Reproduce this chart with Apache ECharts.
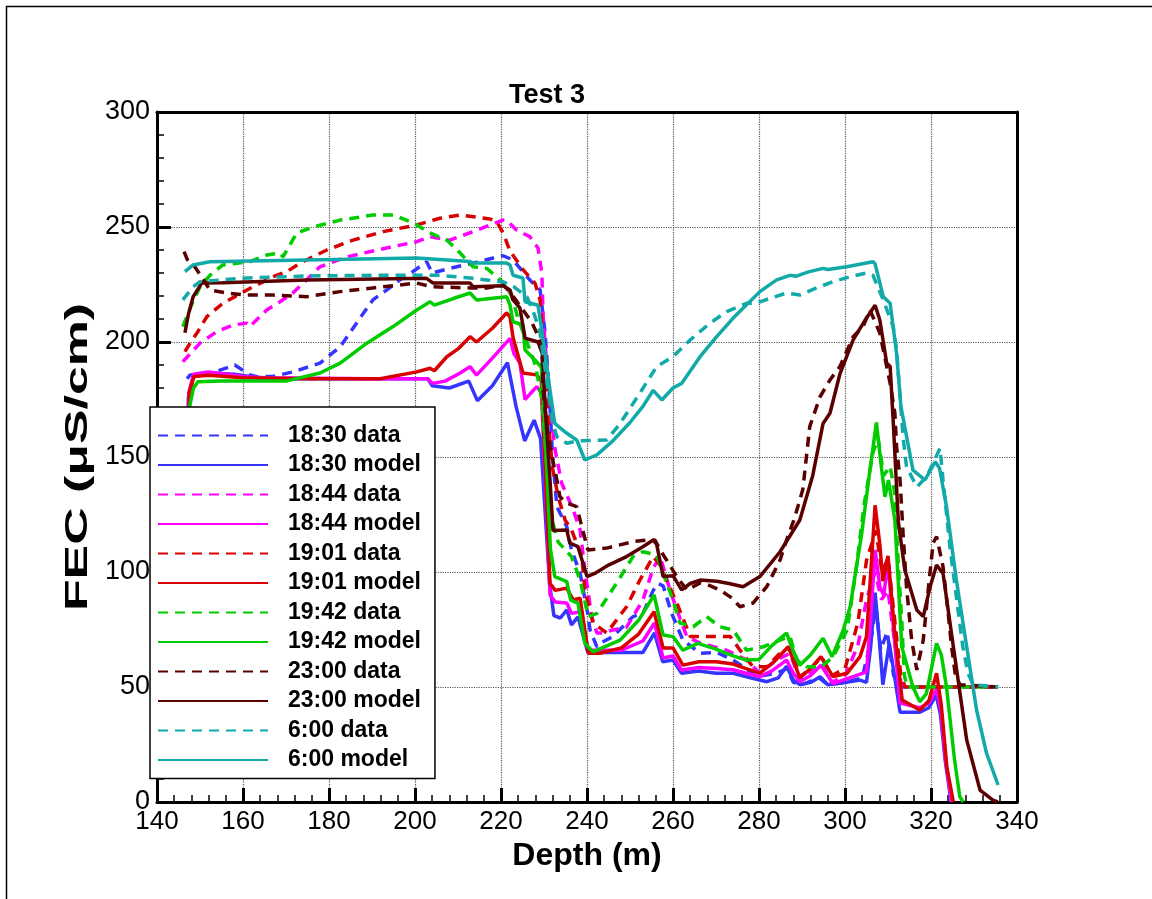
<!DOCTYPE html>
<html>
<head>
<meta charset="utf-8">
<script src="https://cdn.jsdelivr.net/npm/echarts@6/dist/echarts.min.js"></script>
<style>
  html, body { margin: 0; padding: 0; background: #fff; }
  #chart { width: 1152px; height: 899px; }
</style>
</head>
<body>
<div id="chart"></div>
<script>
// depth (m), FEC (uS/cm) pairs
var m1830 = [[146.8,110],[147.3,176],[148.5,185],[152,186.5],[158,186],[165,184],[190,184],[203,184],[204,181],[208,180],[212.5,183],[214.5,174.5],[218,181],[221.5,191],[223.5,172],[225.5,157],[227.7,166],[229.2,158],[230.3,125],[231.3,95],[232.3,81],[233.8,80],[235.3,83.5],[236.4,77],[237.9,80.5],[240.2,65],[247,65],[253,65],[255.7,73.5],[257.6,61],[260,61.7],[262,56],[266,57],[270,56],[274,56],[278,54],[281.8,52.3],[284.5,54],[286.4,59],[288,53],[289.5,51],[292,52],[294.2,54.5],[296,51],[300,52],[303.5,53],[305,52],[306,68],[307,91],[308,70],[308.8,51],[310.3,69],[311.5,55],[312.8,39],[317.4,39],[319.5,41],[321.2,46.5],[322.2,38],[323.3,18],[324.7,0]];
var m1844 = [[146.8,112],[147.4,178],[148.5,186],[152,187],[160,185],[165,184.5],[190,184],[203,184],[204,182],[207,183],[210.5,186.5],[212.8,189.3],[214.3,185.6],[218,193],[222.1,201.6],[223,195],[224.4,190.8],[225.6,175],[228.3,180.6],[229.4,178],[230.3,140],[231.4,90],[232.6,87],[235.3,86.5],[236.4,82],[238.4,82.7],[240.3,66],[248,66],[253,70],[255.7,77.8],[257.7,62.6],[260,63.5],[262,57.4],[266,58.5],[270,58],[274,57.5],[277,56],[280.2,54.5],[283,57],[286.4,61.7],[288,56],[289.5,52.3],[292,55],[294.4,59.5],[297.2,51.5],[301.9,54.5],[305,56.6],[306,80],[307,109.6],[308.1,93.6],[309,90],[310,103.9],[311.3,75],[312.8,43],[317.4,41],[319.5,43],[321.3,49],[322.3,40],[323.4,18],[324.8,0]];
var m1901 = [[146.9,112],[147.5,178],[148.6,185],[152,185.5],[160,184.5],[175,184],[191.9,184],[200.4,187],[203.5,188.6],[204.5,187.5],[207.4,193.6],[210,197],[212.8,202.3],[214.3,200],[218,206],[221.3,212.6],[222.1,211],[222.8,202],[225.1,186.5],[228.3,185.7],[229.4,183],[230.4,140],[231.4,95],[232.6,92],[235.3,93],[236.8,87.8],[238.4,88.6],[240.3,64.7],[243,64.7],[248,67],[252,73],[255.6,82.7],[257.7,67],[260,67],[262.3,59.5],[266,61],[270,61],[274,60],[277,58],[280.2,56],[283.5,61],[286.8,67.5],[288.3,60],[289.5,54],[292,58],[294.4,63.2],[297.2,54.5],[300.5,56],[303.5,63.2],[305,71.9],[306,100],[307,129],[308.1,112],[308.8,96],[310,107],[311.5,75],[313.3,44.3],[317.4,40],[319.5,44],[321.3,56],[322.4,42],[323.7,15],[325.2,0]];
var m1942 = [[147,100],[147.6,172],[148.5,180],[149.5,182.7],[155,183],[170,183],[177.9,186.5],[182.6,190.8],[188.8,199.5],[194.9,206.7],[200.4,213.9],[203.5,217.5],[204.5,216],[208.9,218.9],[212.8,221.3],[214.3,218.3],[221.3,219.7],[222.1,216],[222.8,208.8],[225.1,207.4],[225.6,196.5],[228.3,191.4],[229.4,189],[230.5,150],[231.5,110],[232.5,98],[235.3,95.8],[236.2,87.8],[237.9,86.5],[239.5,69],[241.4,65.3],[247.7,70.4],[252,79],[255.6,90],[257.7,72.6],[260,71.9],[262.3,66],[265.8,69],[270,66.5],[274,63.5],[277.1,61.7],[280,62],[283,68],[286.4,73.5],[287.9,66],[289.5,59.5],[292,64],[294.9,71.2],[297,63.2],[299.6,74.8],[301.2,84.9],[303.9,116.9],[305.5,140],[307.3,165],[308.5,145],[309.3,132.7],[310.1,140],[311.6,122.6],[313.2,67.5],[315.8,50],[317.4,43.6],[318.9,47],[321.3,69],[322.4,64],[323.6,50],[325.5,18],[326.7,2.3],[327.5,0]];
var m2300 = [[146.5,204],[147.3,212],[148.4,219.7],[150.4,225.6],[155.3,225.8],[174.8,227],[202.7,227.7],[204.2,225.6],[212.8,225.6],[213.5,224],[220.5,224.5],[222.1,222.6],[222.8,218.3],[224.4,214.8],[225.6,201.7],[228.6,200],[229.6,195],[230.5,165],[231.4,140],[232.1,118],[235.3,118.3],[236,112.6],[237.9,111],[240,98],[241.8,99.4],[245,103],[249.2,106.7],[253,111],[255.4,113.9],[256.2,112],[257.7,98],[260,98.4],[262,92.2],[264,95],[266.3,96.5],[270.2,96],[273,95],[276.3,93.6],[280.2,98],[284.9,108.8],[289.5,122.6],[292.5,142],[294.9,164.6],[296.5,169],[298.8,186],[301.9,200.9],[304.5,209],[307,216],[308.1,209.6],[309.7,190.8],[310.5,189.3],[311.2,166],[312.4,122],[313.9,101],[316.7,83.5],[318.2,80.6],[319.8,93.6],[321.3,103],[322.8,99.4],[325.2,67.5],[328.3,27],[331.4,5.2],[334.4,0.8],[335.5,0]];
var m0600 = [[146.5,230.6],[148.4,233.5],[152.3,234.9],[174.8,235.7],[200.4,236.5],[212.8,235],[213.5,234.3],[221.3,234.3],[222.1,233.5],[222.8,229],[225.1,227.8],[225.6,217.5],[228.6,216],[229.5,205],[231.4,179],[232.5,164.6],[235.3,160.3],[237.6,157.4],[239.5,148.7],[242.3,150.9],[246,157],[250,165],[253,172],[255.4,179],[257.4,174.8],[260,180],[262,182],[266.3,193.6],[270,202],[274,210.4],[280.2,221.9],[284.1,227],[287.2,229],[288.7,228.6],[291.5,230.5],[294.9,232],[296,231.5],[300.4,232.7],[306.5,234.9],[307,234],[308.9,219.7],[310.5,216.8],[312,195],[313,172],[315.8,144.3],[318.6,140],[321,148],[322,145],[323.6,128.4],[325.9,96.5],[328.3,67.5],[330.6,40],[332.9,21.3],[335.6,7.4]];

var d1830 = [[147,184],[147.7,185.7],[152,186],[155,188],[158.1,190],[161.6,185.7],[163.2,184.9],[167,185],[171.6,187],[177.9,190.8],[182.6,197.9],[186.4,208.2],[190.2,218.3],[193.4,222.6],[196.5,227],[199.5,230.6],[202.7,234.9],[204,230],[208,232],[213.5,234.3],[218.2,236.5],[220.5,237.5],[222.8,235.7],[226.7,227],[229.1,222.6],[230.2,205],[231.2,179],[232,150],[233,128.4],[235.3,119.7],[236.4,109.6],[238.4,99.4],[240.3,80.6],[240.7,74.8],[242.3,67.5],[243,69],[246,71.9],[250.7,80.6],[253,82],[255.4,92],[256.5,95],[257.7,94],[259.7,82],[262.3,70.4],[266.3,64.7],[270.2,65],[274,61.7],[277,58],[279.5,54.5],[284.1,56],[286.5,58],[288,52],[290,51],[294,54],[296,51],[300,52],[304,54],[306,70],[307.2,85],[308.3,66],[309.8,74],[311.3,55],[312.8,50],[335.6,50]];
var d1844 = [[146,191.4],[150,199.5],[153.9,204.5],[157.7,207.4],[160.9,208.2],[161.6,206.7],[165.5,213.9],[168.6,217.5],[171.6,221.3],[177.9,232.7],[184.1,237],[193.4,240.9],[200.4,243.6],[203.5,245.8],[208.1,244.3],[213.5,248],[220.5,253],[221.3,253],[223.6,248.7],[226.7,245.8],[228.6,240.9],[229.5,230],[229.8,211],[230.2,200.9],[231.4,171.9],[232.6,153],[234.1,138.7],[236.8,127],[238.4,118.3],[239.5,100.9],[241.1,80.6],[242.3,73.5],[243.8,73.5],[246,74.8],[249.2,76],[253,87.8],[255.4,101.7],[257,106.7],[259.3,92.2],[260.9,83.5],[263.2,72],[266.3,69],[272.5,66],[277.1,61.7],[280.2,56],[284.1,61.7],[287.2,64.7],[289.5,53],[292,56],[294.5,60],[297,52],[300,55],[303,68],[305,88],[307,100],[308.5,88],[310,92],[311.5,70],[313,52],[314,50],[335.6,50]];
var d1901 = [[146.5,195.8],[147.7,199.5],[149.5,204.5],[151.6,211],[155.3,216.8],[160.9,222.6],[167,228.4],[170.2,230.6],[173.3,234.3],[179.5,240],[185.6,244.3],[192.6,248],[200.4,250.9],[205.8,253.8],[210.5,255.2],[217.4,253.5],[219,252.3],[220.5,247.4],[222.1,239.5],[225.1,231.5],[227.9,225.6],[229.1,218.3],[230,195],[231,165],[232,145],[233.3,132.7],[234.9,122.6],[236.4,118.3],[238.8,106.7],[239.5,92.2],[241.4,77.8],[244.6,73.5],[249.2,84.9],[252.3,96.5],[255.4,106.7],[257,103],[258.5,96.5],[260.9,86.5],[264,72],[268.6,72],[273.3,72],[275.6,66],[278.6,58.8],[281.8,58.8],[284.9,64.7],[287.2,67.5],[289.5,54.5],[292,58],[294.5,63],[297,55],[300,58],[303,78],[305,105],[307.2,118],[308.6,100],[310,106],[311.5,80],[313,55],[314,50],[335.6,50]];
var d1942 = [[146,206.7],[148,216],[150,224],[152.3,229],[155.3,233.5],[161.6,234.9],[165.5,237.8],[168.6,238.7],[169.3,237],[172.5,247.4],[176.3,250],[182.6,253],[190.2,255.2],[194.9,255.2],[198,253],[200.4,250.9],[203.5,247.4],[207.4,244.3],[210.5,238.7],[213.5,232.7],[216.7,232],[219.8,227],[220.5,226],[222.5,220],[224,210],[226,200],[228,190],[229.5,175],[230.5,150],[231.5,125],[233.3,113],[236.4,106.7],[238.4,96.5],[240.3,80.6],[242.3,82],[246.9,95.2],[250.7,106.7],[253,108.8],[256.2,107.4],[257.7,99.4],[260,87.8],[261.6,77.8],[264.7,76.2],[267.8,80.6],[270.9,76.2],[274,74.8],[277.1,66],[281,67.5],[284.9,70.4],[287.2,72],[288.8,61.7],[291.1,58.8],[294.4,58.8],[297.2,63],[300.5,74.8],[302.5,100],[304.5,130],[306.5,152],[307.7,158],[309,142],[310.5,146],[311.5,135],[312.5,100],[313.2,79],[313.8,55],[314.5,50],[335.6,50]];
var d2300 = [[146.3,239.3],[147,236],[148.8,232.7],[150.5,228],[152.3,222.6],[156.2,221.3],[160,220.5],[167,220.4],[174.8,219.7],[182.6,221.9],[190.2,223.5],[196.5,224.8],[200.4,225.6],[204,224],[212.8,223.5],[216.7,223.5],[220.5,224.8],[222,222],[225.1,213.9],[227.1,208.8],[228.3,203.9],[229.5,198],[229.8,179],[230.6,164.6],[231.4,154.5],[233,140],[233.7,132.7],[235.3,130],[237.6,128.4],[238.8,119.7],[240.2,109.6],[244.6,110.4],[250.7,113.2],[253.9,113.9],[255.8,113.9],[257,109.6],[258.5,105.2],[260.9,98],[263.2,92.2],[266.3,95.2],[268,94.5],[270.9,92.2],[273.3,89.2],[275.6,84.9],[278.6,86.5],[281.8,93.6],[284.9,105.2],[286.4,113.9],[288,122],[289.5,131.3],[290.2,136],[291.8,163.2],[294.2,176.2],[296.5,183.5],[298.8,189.3],[301.9,202.3],[304.2,206.7],[305.8,213.9],[308.1,203.9],[310.5,182],[311.6,169],[312,154.5],[312.8,140],[313.5,116.9],[314.3,93.6],[315.5,70.4],[316.7,57.4],[318.2,70.4],[319.5,95],[320.5,112.6],[321.3,115.4],[322.8,102.3],[324,82],[324.8,67.5],[325.6,56],[326.7,51],[335.6,50]];
var d0600 = [[146,218.3],[148.4,224],[150,226.2],[159.3,227.7],[174.8,228.7],[190.2,229],[205.8,229],[213.5,227.7],[216.7,227],[219.8,226.2],[220.5,226.2],[223,224],[226,219.7],[227.5,213.2],[229,205],[230.5,185],[232,165],[233,158.8],[235.3,156],[238,157],[244.6,157.4],[247.7,164.6],[252.3,177.8],[256.2,189.3],[260,193.6],[264,200.9],[268.6,208.2],[272.5,213.2],[277.1,216.8],[279.5,217],[282.6,219],[286.4,221.3],[289.5,220.4],[293.4,223.5],[297.2,226.2],[301.2,228.4],[305,230],[306.5,229],[308.9,218.3],[311.2,206.7],[312,196.5],[313.5,158.8],[314.3,145.8],[316.7,137],[319,141.4],[322.1,153.8],[322.8,140],[324.4,111],[325.9,89.2],[327.4,67.5],[328.6,56],[329.8,51],[335.6,50]];

var names = ['18:30 data','18:30 model','18:44 data','18:44 model','19:01 data','19:01 model',
             '19:42 data','19:42 model','23:00 data','23:00 model','6:00 data','6:00 model'];
var colors = ['#3535ff','#3535ff','#ff00ff','#ff00ff','#d80000','#d80000',
              '#00cc00','#00cc00','#5a0000','#5a0000','#12a9a9','#12a9a9'];
var curves = [d1830, m1830, d1844, m1844, d1901, m1901, d1942, m1942, d2300, m2300, d0600, m0600];

var font = 'Liberation Sans, Arial, sans-serif';

var myChart = echarts.init(document.getElementById('chart'));

var series = [];
for (var i = 0; i < curves.length; i++) {
    series.push({
        name: names[i],
        type: 'line',
        data: curves[i],
        symbol: 'none',
        lineStyle: { color: colors[i], width: 3.5, type: (i % 2 == 0) ? [10, 7] : 'solid' },
        itemStyle: { color: colors[i] }
    });
}

var option = {
    animation: false,
    backgroundColor: '#fff',
    title: {
        text: 'Test 3',
        left: 542, top: 77, textAlign: 'center',
        textStyle: { fontFamily: font, fontSize: 27, fontWeight: 'bold', color: '#000' }
    },
    grid: { left: 157, right: 135, top: 112, bottom: 97 },
    legend: {
        orient: 'vertical',
        left: 150, top: 407,
        data: names,
        itemWidth: 110, itemHeight: 6, itemGap: 6.5,
        itemStyle: { opacity: 0 },
        padding: [17, 14, 7, 7],
        backgroundColor: '#fff',
        borderColor: '#000', borderWidth: 1.5,
        textStyle: { fontFamily: font, fontSize: 23, fontWeight: 'bold', color: '#000',
                     padding: [0, 0, 0, 15] }
    },
    xAxis: [{
        type: 'value', min: 140, max: 340, interval: 20,
        name: 'Depth (m)', nameLocation: 'middle', nameGap: 38,
        nameTextStyle: { fontFamily: font, fontSize: 32, fontWeight: 'bold', color: '#000' },
        axisLine: { show: true, onZero: false, lineStyle: { color: '#000', width: 3 } },
        axisTick: { inside: true, length: 14, lineStyle: { color: '#000', width: 3 } },
        minorTick: { show: true, splitNumber: 5, length: 7, lineStyle: { color: '#000', width: 1.5 } },
        axisLabel: { fontFamily: font, fontSize: 26, color: '#000', margin: 7 },
        splitLine: { show: true, lineStyle: { color: '#555', type: 'dotted', width: 1.2 } }
    }, {
        type: 'value', min: 140, max: 340, position: 'top',
        axisLine: { show: true, onZero: false, lineStyle: { color: '#000', width: 3 } },
        axisTick: { show: false }, axisLabel: { show: false }, splitLine: { show: false }
    }],
    yAxis: [{
        type: 'value', min: 0, max: 300, interval: 50,
        axisLine: { show: true, onZero: false, lineStyle: { color: '#000', width: 3 } },
        axisTick: { inside: true, length: 14, lineStyle: { color: '#000', width: 3 } },
        minorTick: { show: true, splitNumber: 5, length: 7, lineStyle: { color: '#000', width: 1.5 } },
        axisLabel: { fontFamily: font, fontSize: 27, color: '#000', margin: 7 },
        splitLine: { show: true, lineStyle: { color: '#555', type: 'dotted', width: 1.2 } }
    }, {
        type: 'value', min: 0, max: 300, position: 'right',
        axisLine: { show: true, onZero: false, lineStyle: { color: '#000', width: 3 } },
        axisTick: { show: false }, axisLabel: { show: false }, splitLine: { show: false }
    }],
    graphic: [{
        type: 'polyline',
        shape: { points: [[6.5, 899], [6.5, 6.5], [1152, 6.5]] },
        style: { stroke: '#000', lineWidth: 1.5, fill: null }
    }, {
        // y axis title, stretched along its length as in the original export
        type: 'text',
        x: 78, y: 457,
        rotation: Math.PI / 2,
        scaleX: 1.62,
        style: {
            text: 'FEC (\u03BCS/cm)',
            fontFamily: font, fontSize: 32, fontWeight: 'bold', fill: '#000',
            align: 'center', verticalAlign: 'middle'
        }
    }],
    series: series
};

myChart.setOption(option);
</script>
</body>
</html>
